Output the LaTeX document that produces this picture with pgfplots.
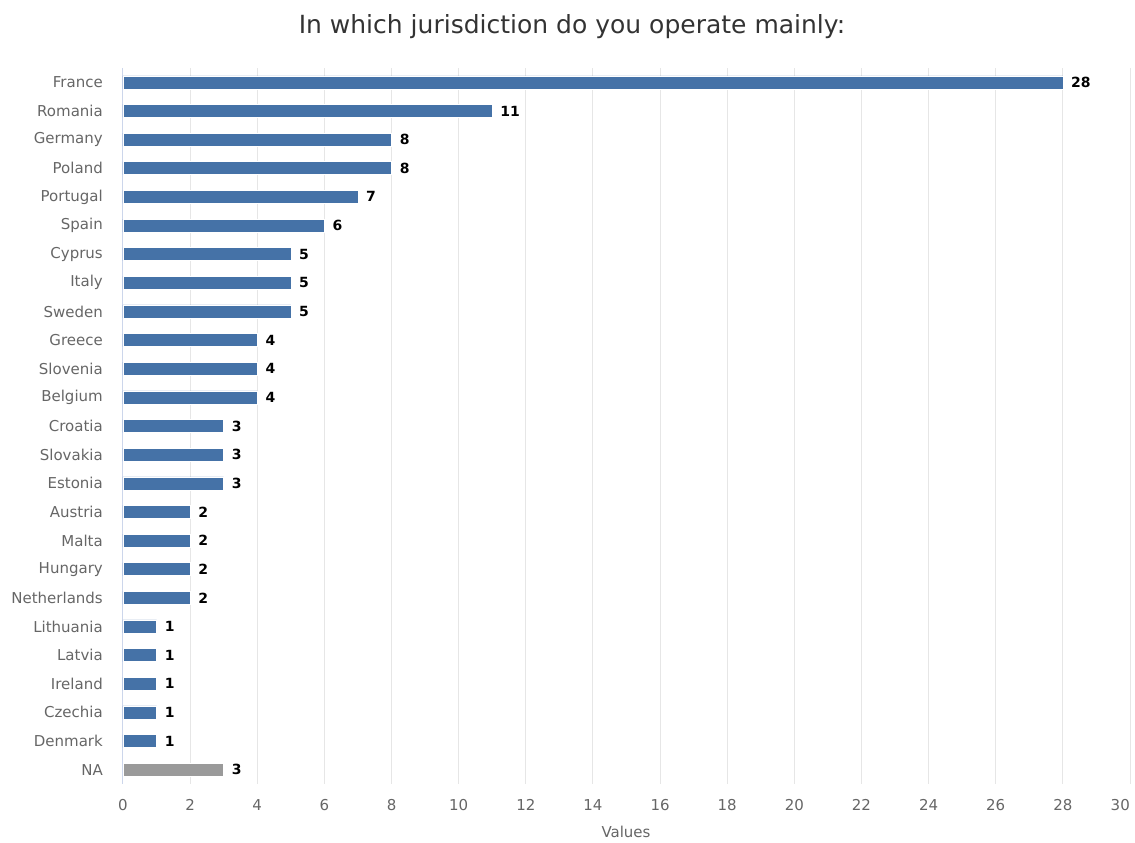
\documentclass[border=0pt]{standalone}
\usepackage{fontspec}
\setmainfont{DejaVu Sans}
\usepackage{pgfplots}
\pgfplotsset{compat=1.18}
\definecolor{barblue}{HTML}{4572A7}
\definecolor{nagray}{HTML}{9A9A9A}
\definecolor{gridgray}{HTML}{E6E6E6}
\definecolor{axisblue}{HTML}{CCD6EB}
\definecolor{labelgray}{HTML}{666666}
\definecolor{titlegray}{HTML}{333333}
\begin{document}
\begin{tikzpicture}
\useasboundingbox (0pt,0pt) rectangle (1135pt,843pt);
\begin{axis}[
  at={(123pt,59pt)}, anchor=south west,
  scale only axis, width=1007pt, height=716pt,
  xbar, bar width=13pt, bar shift=0pt,
  xmin=0, xmax=30, ymin=-0.5, ymax=24.5,
  y dir=reverse,
  ytick={0,...,24},
  yticklabels={France,Romania,Germany,Poland,Portugal,Spain,Cyprus,Italy,Sweden,Greece,Slovenia,Belgium,Croatia,Slovakia,Estonia,Austria,Malta,Hungary,Netherlands,Lithuania,Latvia,Ireland,Czechia,Denmark,NA},
  xtick={0,2,...,28},
  extra x ticks={30},
  extra x tick style={xmajorgrids=true, xticklabel style={anchor=north east}},
  xmajorgrids,
  major grid style={draw=gridgray, line width=1pt},
  major tick length=0pt,
  axis lines*=left,
  x axis line style={draw=none},
  y axis line style={draw=axisblue, line width=1pt, -},
  /pgf/number format/assume math mode=true,
  xticklabel style={font=\fontsize{15}{18}\selectfont, text=labelgray, anchor=north, inner sep=0pt, yshift=-15pt},
  yticklabel style={font=\fontsize{15}{18}\selectfont, text=labelgray, anchor=east, inner sep=0pt, xshift=-20pt},
  nodes near coords,
  every node near coord/.append style={font=\fontsize{14}{17}\selectfont\bfseries, text=black, anchor=west, inner sep=0pt, xshift=8pt},
  clip=false,
]
\addplot[fill=barblue, draw=white, line width=0.5pt] coordinates {
(28,0) (11,1) (8,2) (8,3) (7,4) (6,5) (5,6) (5,7) (5,8) (4,9) (4,10) (4,11)
(3,12) (3,13) (3,14) (2,15) (2,16) (2,17) (2,18) (1,19) (1,20) (1,21) (1,22) (1,23)
};
\addplot[fill=nagray, draw=white, line width=0.5pt] coordinates {(3,24)};
\end{axis}
\node[font=\fontsize{25}{30}\selectfont, text=titlegray] at (572pt,816pt) {In which jurisdiction do you operate mainly:};
\node[font=\fontsize{15}{18}\selectfont, text=labelgray] at (626pt,11pt) {Values};
\end{tikzpicture}
\end{document}
